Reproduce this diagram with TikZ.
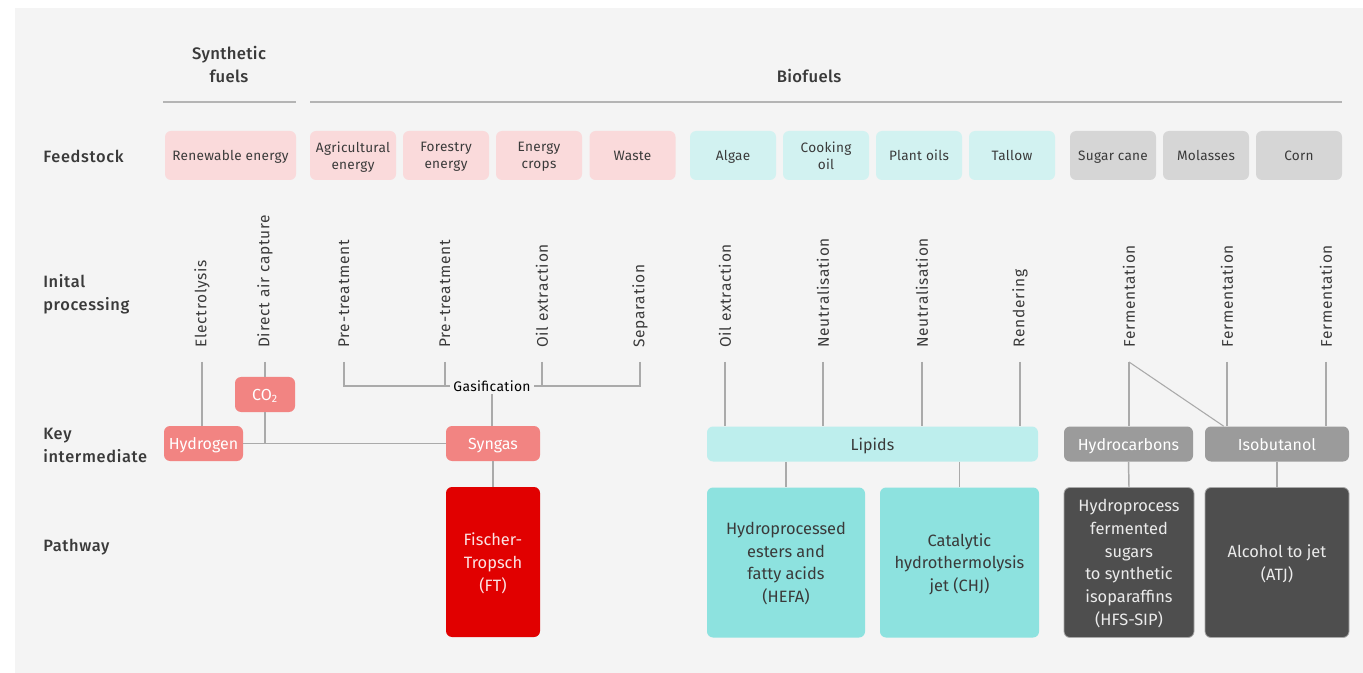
\documentclass[tikz,border=0pt]{standalone}
\usepackage{fontspec}
\setmainfont{Fira Sans}
\newfontfamily\medfont{Fira Sans}[UprightFont=* Medium]
\usetikzlibrary{positioning}
\definecolor{panel}{HTML}{F4F4F4}
\definecolor{fpink}{HTML}{FADADB}
\definecolor{fcyan}{HTML}{D2F2F1}
\definecolor{fgray}{HTML}{D6D6D6}
\definecolor{ftext}{HTML}{3A3A3A}
\definecolor{salmon}{HTML}{F28482}
\definecolor{lipid}{HTML}{BDEEED}
\definecolor{igray}{HTML}{9B9B9B}
\definecolor{ftred}{HTML}{E10000}
\definecolor{pcyan}{HTML}{8DE2DF}
\definecolor{pdark}{HTML}{4E4E4E}
\definecolor{pborder}{HTML}{A8A8A8}
\definecolor{conn}{HTML}{AAAAAA}
\definecolor{hline}{HTML}{B4B4B4}
\definecolor{ltext}{HTML}{FBE3E3}
\tikzset{
  sz/.style 2 args={minimum width=#1*0.75pt, minimum height=#2*0.75pt},
  box/.style={rounded corners=4.5pt, inner sep=1pt, align=center, text=ftext, text depth=0pt},
  feed/.style={box, font=\fontsize{10.2}{13}\selectfont\addfontfeature{LetterSpace=2}, sz={86}{49}},
  feedpink/.style={feed, fill=fpink},
  feedcyan/.style={feed, fill=fcyan},
  feedgray/.style={feed, fill=fgray},
  proc/.style={rotate=90, anchor=west, inner sep=0pt, text=ftext, font=\fontsize{11.6}{13}\selectfont\addfontfeature{LetterSpace=5}},
  inter/.style={box, font=\fontsize{12}{14}\selectfont, sz={94}{35}},
  intsal/.style={inter, fill=salmon, text=white},
  intgray/.style={inter, fill=igray, text=white},
  path/.style={box, font=\fontsize{12.3}{17}\selectfont, minimum height=150*0.75pt},
  rowlab/.style={anchor=west, align=left, inner sep=0pt, text=ftext, font=\medfont\fontsize{12.3}{17.2}\selectfont\addfontfeature{LetterSpace=4}},
  head/.style={align=center, inner sep=0pt, text=ftext, font=\medfont\fontsize{12.5}{17.5}\selectfont\addfontfeature{LetterSpace=2}},
  cline/.style={draw=conn, line width=1.1pt},
  hl/.style={draw=hline, line width=1.6pt}
}
\begin{document}
\begin{tikzpicture}[x=0.75pt,y=-0.75pt]
\useasboundingbox (0,0) rectangle (1363,673);
\fill[white] (0,0) rectangle (1363,673);
\fill[panel] (15,8) rectangle (1363,673);

% headers
\node[head] (hsyn) at (229,64.5) {Synthetic\\fuels};
\node[head] (hbio) at (809,76) {Biofuels};
\coordinate (hs1) at (163,102); \coordinate (hs2) at (296,102);
\coordinate (hb1) at (310,102); \coordinate (hb2) at (1342,102);
\draw[hl] (hs1) -- (hs2);
\draw[hl] (hb1) -- (hb2);

% row labels
\node[rowlab] (lfeed) at (43,156) {Feedstock};
\node[rowlab] (lproc) at (43,294) {Inital\\processing};
\node[rowlab] (lkey) at (43,445) {Key\\intermediate};
\node[rowlab] (lpath) at (43,547) {Pathway};

% feedstock
\node[feedpink, sz={131}{49}] (ren) at (230.5,155.5) {Renewable energy};
\node[feedpink] (agr) at (353,155.5) {Agricultural\\energy};
\node[feedpink] (fore) at (446,155.5) {Forestry\\energy};
\node[feedpink] (ecr) at (539,155.5) {Energy\\crops};
\node[feedpink] (was) at (632.5,155.5) {Waste};
\node[feedcyan] (alg) at (733,155.5) {Algae};
\node[feedcyan] (coo) at (826,155.5) {Cooking\\oil};
\node[feedcyan] (pla) at (919,155.5) {Plant oils};
\node[feedcyan] (tal) at (1012,155.5) {Tallow};
\node[feedgray] (sug) at (1113,155.5) {Sugar cane};
\node[feedgray] (mol) at (1206,155.5) {Molasses};
\node[feedgray] (cor) at (1299,155.5) {Corn};

% initial processing labels
\node[proc] (pel) at (202,348) {Electrolysis};
\node[proc] (pdac) at (265,348) {Direct air capture};
\node[proc] (ppt1) at (344,348) {Pre-treatment};
\node[proc] (ppt2) at (445,348) {Pre-treatment};
\node[proc] (poe1) at (542,348) {Oil extraction};
\node[proc] (psep) at (640,348) {Separation};
\node[proc] (poe2) at (725,348) {Oil extraction};
\node[proc] (pneu1) at (823,348) {Neutralisation};
\node[proc] (pneu2) at (922,348) {Neutralisation};
\node[proc] (pren) at (1020,348) {Rendering};
\node[proc] (pfe1) at (1129,348) {Fermentation};
\node[proc] (pfe2) at (1227,348) {Fermentation};
\node[proc] (pfe3) at (1326,348) {Fermentation};

% line start coordinates
\coordinate (cel) at (202,362);
\coordinate (cdac) at (265,362);
\coordinate (cpt1) at (344,362);
\coordinate (cpt2) at (445,362);
\coordinate (coe1) at (542,362);
\coordinate (csep) at (640,362);
\coordinate (coe2) at (725,362);
\coordinate (cneu1) at (823,362);
\coordinate (cneu2) at (922,362);
\coordinate (cren) at (1020,362);
\coordinate (cfe1) at (1129,362);
\coordinate (cfe2) at (1227,362);
\coordinate (cfe3) at (1326,362);

% intermediates
\node[intsal, sz={60}{35}] (co2) at (265,394.5) {CO\textsubscript{2}};
\node[intsal, sz={79}{35}] (hyd) at (203.5,443.5) {Hydrogen};
\node[intsal, sz={94}{35}] (syn) at (493,443.5) {Syngas};
\node[inter, fill=lipid, sz={331}{35}] (lip) at (872.5,444) {Lipids};
\node[intgray, sz={129}{35}] (hc) at (1128.5,444) {Hydrocarbons};
\node[intgray, sz={144}{35}] (iso) at (1277,444) {Isobutanol};
\node[inner sep=2pt, text=black, font=\fontsize{10.4}{12}\selectfont\addfontfeature{LetterSpace=2.5}] (gas) at (492,386) {Gasification};

% pathways
\node[path, fill=ftred, text=ltext, minimum width=94*0.75pt] (ft) at (493,562) {Fischer-\\Tropsch\\(FT)};
\node[path, fill=pcyan, minimum width=158*0.75pt] (hefa) at (786,562.5) {Hydroprocessed\\esters and\\fatty acids\\(HEFA)};
\node[path, fill=pcyan, minimum width=159*0.75pt] (chj) at (959.5,562.5) {Catalytic\\hydrothermolysis\\jet (CHJ)};
\node[path, fill=pdark, draw=pborder, line width=0.6pt, text=white!92!black, minimum width=130*0.75pt] (hfs) at (1129,562.5) {Hydroprocess\\fermented\\sugars\\to synthetic\\isoparaffins\\(HFS-SIP)};
\node[path, fill=pdark, draw=pborder, line width=0.6pt, text=white!92!black, minimum width=144*0.75pt] (atj) at (1277,562.5) {Alcohol to jet\\(ATJ)};

% connectors: synthetic
\draw[cline] (cel) -- (cel |- hyd.north);
\draw[cline] (cdac) -- (co2.north);
\draw[cline] (co2.south) -- (co2.south |- hyd.east);
\draw[cline] (hyd.east) -- (syn.west);
\draw[cline] (cpt1) |- (gas.west);
\draw[cline] (cpt2) -- (cpt2 |- gas.west);
\draw[cline] (coe1) |- (gas.east);
\draw[cline] (csep) |- (gas.east);
\draw[cline] (gas.south) -- (gas.south |- syn.north);
\draw[cline] (syn.south) -- (ft.north);
% lipids
\draw[cline] (coe2) -- (coe2 |- lip.north);
\draw[cline] (cneu1) -- (cneu1 |- lip.north);
\draw[cline] (cneu2) -- (cneu2 |- lip.north);
\draw[cline] (cren) -- (cren |- lip.north);
\draw[cline] (hefa.north |- lip.south) -- (hefa.north);
\draw[cline] (chj.north |- lip.south) -- (chj.north);
% sugars
\coordinate (isodiag) at ([xshift=19*0.75pt]iso.north west);
\draw[cline] (cfe1) -- (cfe1 |- hc.north);
\draw[cline, line width=0.8pt] (cfe1) -- (isodiag);
\draw[cline] (cfe2) -- (cfe2 |- iso.north);
\draw[cline] (cfe3) -- (cfe3 |- iso.north);
\draw[cline] (hc.south) -- (hfs.north);
\draw[cline] (iso.south) -- (atj.north);
\end{tikzpicture}
\end{document}
